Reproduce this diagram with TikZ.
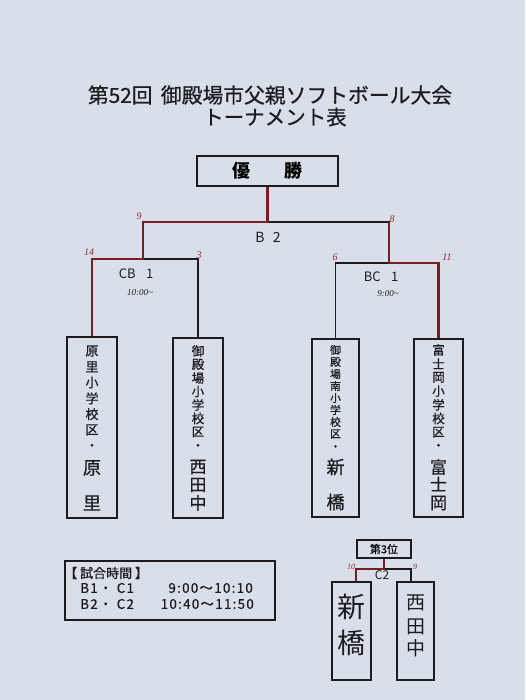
\documentclass[tikz,border=0pt]{standalone}
\usepackage{fontspec}
\setmainfont{Noto Sans CJK JP}
\newfontfamily\jpm{Noto Sans CJK JP}[FakeBold=0.6]
\newfontfamily\jpl{Noto Sans CJK JP}[FakeBold=0.4,LetterSpace=9]
\newfontfamily\hand{Liberation Serif}
\usetikzlibrary{calc}
\definecolor{paper}{RGB}{216,223,232}
\definecolor{winred}{RGB}{118,30,34}
\definecolor{score}{RGB}{150,40,52}
\definecolor{ink}{RGB}{28,28,32}
\newcommand{\fs}[1]{\fontsize{#1}{#1}\selectfont}
\begin{document}
\begin{tikzpicture}[x=1pt,y=-1pt,
  box/.style={draw=ink,line width=1.6pt,inner sep=0pt},
  bline/.style={draw=ink,line width=1.6pt},
  rline/.style={draw=winred,line width=2.6pt},
  txt/.style={inner sep=0pt,text=ink},
  sc/.style={inner sep=0pt,text=score,font=\hand\itshape\fs{10}},
  hw/.style={inner sep=0pt,text=ink,font=\hand\itshape\fs{9}}]
\fill[paper] (0,0) rectangle (525,700);
\useasboundingbox (0,0) rectangle (525,700);

% title
\node[txt,font=\jpm\fs{20.8}] (title1) at (270,95) {第52回\hspace{0.4em}御殿場市父親ソフトボール大会};
\node[txt,font=\jpm\fs{20.5}] (title2) at (275,117) {トーナメント表};

% winner box
\node[box,minimum width=141pt,minimum height=30pt,font=\bfseries\fs{18}] (win) at (267.5,171) {優\hspace{1.9em}勝};

% team boxes
\node[box,minimum width=50pt,minimum height=181pt] (t1) at (92,427.5) {};
\node[box,minimum width=50pt,minimum height=180pt] (t2) at (198,428) {};
\node[box,minimum width=47pt,minimum height=178pt] (t3) at (335.5,428) {};
\node[box,minimum width=49pt,minimum height=178pt] (t4) at (438.5,428) {};

% team texts
\foreach \c [count=\i from 0] in {原,里,小,学,校,区}
  \node[txt,font=\jpm\fs{13}] (a\i) at (92,351+15.8*\i) {\c};
\node[txt,font=\jpm\fs{13}] (a6) at (92,447) {・};
\node[txt,font=\jpm\fs{18}] (a7) at (92,468) {原};
\node[txt,font=\jpm\fs{18}] (a8) at (92,503) {里};

\foreach \c [count=\i from 0] in {御,殿,場,小,学,校,区}
  \node[txt,font=\jpm\fs{12.5}] (b\i) at (198,351+13.5*\i) {\c};
\node[txt,font=\jpm\fs{13}] (b7) at (198,447) {・};
\node[txt,font=\jpm\fs{17}] (b8) at (198,467) {西};
\node[txt,font=\jpm\fs{17}] (b9) at (198,485) {田};
\node[txt,font=\jpm\fs{17}] (b10) at (198,503) {中};

\foreach \c [count=\i from 0] in {御,殿,場,南,小,学,校,区}
  \node[txt,font=\jpm\fs{10.8}] (c\i) at (335.5,350+12*\i) {\c};
\node[txt,font=\jpm\fs{12}] (c8) at (335.5,448) {・};
\node[txt,font=\jpm\fs{18}] (c9) at (335.5,467) {新};
\node[txt,font=\jpm\fs{18}] (c10) at (335.5,502) {橋};

\foreach \c [count=\i from 0] in {富,士,岡,小,学,校,区}
  \node[txt,font=\jpm\fs{12.5}] (d\i) at (438.5,350+13.7*\i) {\c};
\node[txt,font=\jpm\fs{13}] (d7) at (438.5,447) {・};
\node[txt,font=\jpm\fs{17}] (d8) at (438.5,467) {富};
\node[txt,font=\jpm\fs{17}] (d9) at (438.5,484) {士};
\node[txt,font=\jpm\fs{17}] (d10) at (438.5,503) {岡};

% bracket coordinates
\coordinate (bL) at (143,222);
\coordinate (bR) at (389,222);
\coordinate (bM) at (win.south |- bL);
\coordinate (bLd) at (143,259);
\coordinate (bRd) at (389,263);

% black lines
\draw[bline] (t1.north) -- (t1.north |- bLd) -- (t2.north |- bLd) -- (t2.north);
\draw[bline] (t3.north) -- (t3.north |- bRd) -- (t4.north |- bRd) -- (t4.north);
\draw[bline] (bLd) -- (bL) -- (bR) -- (bRd);
\draw[bline] (bM) -- (win.south);
% winners' path
\draw[rline] (t1.north) -- (t1.north |- bLd) -- (bLd) -- (bL) -- (bM) -- (win.south);
\draw[rline] (t4.north) -- (t4.north |- bRd) -- (bRd) -- (bR);

% labels
\node[txt,font=\fs{14}] (lb2) at (268,237) {B\hspace{0.6em}2};
\node[txt,font=\fs{13}] (lcb) at (136,274) {CB\hspace{0.8em}1};
\node[txt,font=\fs{13}] (lbc) at (381,277) {BC\hspace{0.8em}1};
\node[hw] (tm1) at (140,293) {10:00\char`~};
\node[hw] (tm2) at (388,294) {9:00\char`~};

% scores
\node[sc] (s9) at (139,216) {9};
\node[sc] (s8) at (392,219) {8};
\node[sc] (s14) at (89,252) {14};
\node[sc] (s3) at (199,255) {3};
\node[sc] (s6) at (335,257) {6};
\node[sc] (s11) at (447,257) {11};

% legend
\node[box,minimum width=210pt,minimum height=59pt] (leg) at (170,590.5) {};
\node[txt,font=\jpm\fs{13},anchor=west] (lg0) at (64,573) {【 試合時間 】};
\node[txt,font=\jpl\fs{13.5},anchor=west] (lg1) at (80,588) {B1・ C1};
\node[txt,font=\jpl\fs{13.5},anchor=east] (lg2) at (253,588) {9:00〜10:10};
\node[txt,font=\jpl\fs{13.5},anchor=west] (lg3) at (80,604) {B2・ C2};
\node[txt,font=\jpl\fs{13.5},anchor=east] (lg4) at (254,604) {10:40〜11:50};

% third place
\node[box,minimum width=54pt,minimum height=18pt,font=\jpm\fs{11}] (p3) at (384,549) {第3位};
\node[box,minimum width=39pt,minimum height=98pt] (q1) at (351.5,631) {};
\node[box,minimum width=37pt,minimum height=98pt] (q2) at (415.5,631) {};
\node[txt,font=\fs{28}] (q1a) at (351.5,607) {新};
\node[txt,font=\fs{28}] (q1b) at (351.5,643) {橋};
\node[txt,font=\fs{19}] (q2a) at (415.5,603) {西};
\node[txt,font=\fs{19}] (q2b) at (415.5,627) {田};
\node[txt,font=\fs{19}] (q2c) at (415.5,648) {中};
\coordinate (c3) at (384,569);
\coordinate (q1t) at ($(q1.north)+(4.5,0)$);
\coordinate (q2t) at ($(q2.north)+(-4.5,0)$);
\draw[bline] (q1t) -- (q1t |- c3) -- (q2t |- c3) -- (q2t);
\draw[bline] (c3) -- (p3.south);
\draw[rline] (q1t) -- (q1t |- c3) -- (c3) -- (p3.south);
\node[txt,font=\fs{12}] (lc2) at (382,575) {C2};
\node[sc,font=\hand\itshape\fs{8}] (s10) at (351,567) {10};
\node[sc,font=\hand\itshape\fs{8}] (s9b) at (415,567) {9};
\end{tikzpicture}
\end{document}
